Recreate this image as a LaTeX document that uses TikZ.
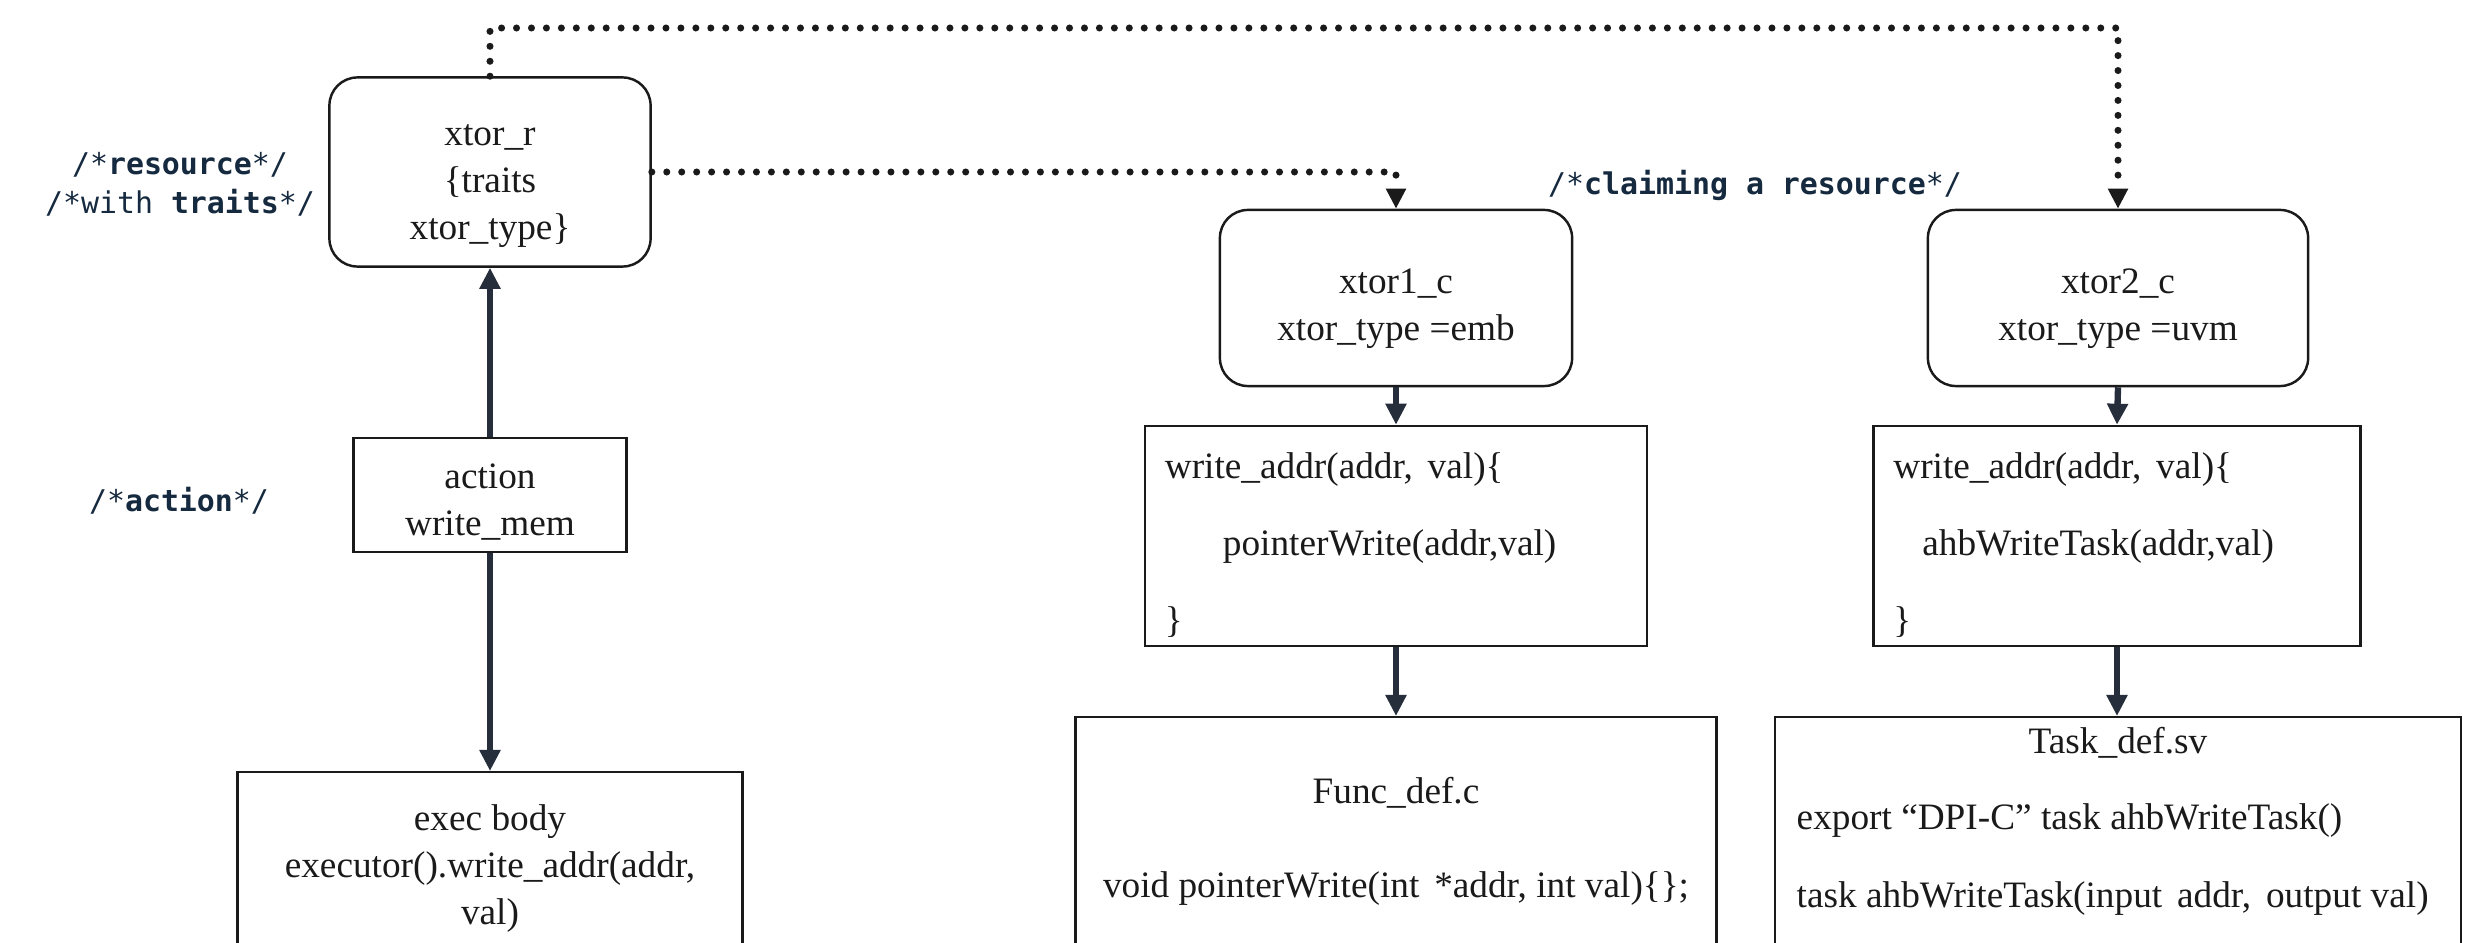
\documentclass[tikz,border=0pt]{standalone}
\usepackage{fontspec}
\setmainfont{Liberation Serif}
\newfontfamily\codefont{DejaVu Sans Mono}
\usetikzlibrary{arrows.meta}

\definecolor{ink}{HTML}{1A1A1A}
\definecolor{flow}{HTML}{262D3B}
\definecolor{note}{HTML}{15293F}

\newcommand{\gap}{\hspace{0.4em}}

\tikzset{
  box/.style={draw=ink, line width=0.7pt, inner sep=0pt},
  rbox/.style={box, rounded corners=0.28cm},
  txt/.style={inner sep=0pt, text=ink, align=center,
    font=\fontsize{10.6}{13.3}\selectfont},
  codetxt/.style={txt, align=left},
  flowarrow/.style={draw=flow, line width=1.8pt, -{Triangle[length=0.21cm,width=0.2cm]}},
  claim/.style={draw=ink, line width=2pt, line cap=round, dash pattern=on 0pt off 4.25pt,
    -{Triangle[length=0.2cm,width=0.19cm]}},
  comment/.style={inner sep=0pt, text=note, align=center,
    font=\codefont\fontsize{8.5}{11}\selectfont},
}

\begin{document}
\begin{tikzpicture}[x=0.01cm,y=-0.01cm]
\useasboundingbox (0,0) rectangle (2472,943);
\clip (0,0) rectangle (2472,943);

% resource, action and executor body
\node[rbox, minimum width=3.21cm, minimum height=1.89cm] (xr) at (490,172) {};
\node[txt] (xrtxt) at ([yshift=-0.14cm]xr.center) {xtor\_r\\\{traits\\xtor\_type\}};
\node[box, minimum width=2.73cm, minimum height=1.14cm] (act) at (490,495) {};
\node[txt] (acttxt) at ([yshift=-0.07cm]act.center) {action\\write\_mem};
\node[box, minimum width=5.05cm, minimum height=1.86cm, anchor=north] (exec) at (490,771) {};
\node[txt] (exectxt) at ([yshift=-0.03cm]exec.center)
  {exec body\\executor().write\_addr(addr,\\val)};

% claimed transactors
\node[rbox, minimum width=3.52cm, minimum height=1.76cm] (x1) at (1396,298) {};
\node[txt] (x1txt) at ([yshift=-0.11cm]x1.center) {xtor1\_c\\xtor\_type =emb};
\node[rbox, minimum width=3.80cm, minimum height=1.76cm] (x2) at (2118,298) {};
\node[txt] (x2txt) at ([yshift=-0.11cm]x2.center) {xtor2\_c\\xtor\_type =uvm};

% write_addr implementations
\node[box, minimum width=5.02cm, minimum height=2.2cm] (w1) at (1396,536) {};
\node[codetxt, text width=4.62cm] (w1txt) at ([yshift=-0.09cm]w1.center)
  {write\_addr(addr,\gap val)\{\\[8.6pt]\hspace*{0.58cm}pointerWrite(addr,val)\\[8.6pt]\}};
\node[box, minimum width=4.87cm, minimum height=2.2cm] (w2) at (2117,536) {};
\node[codetxt, text width=4.47cm] (w2txt) at ([yshift=-0.09cm]w2.center)
  {write\_addr(addr,\gap val)\{\\[8.6pt]\hspace*{0.29cm}ahbWriteTask(addr,val)\\[8.6pt]\}};

% definition files
\node[box, minimum width=6.41cm, minimum height=2.4cm, anchor=north] (fdef) at (1396,716) {};
\node[txt] (fdeftxt) at ([yshift=-0.04cm]fdef.center)
  {Func\_def.c\\[13.3pt]void pointerWrite(int\gap *addr, int val)\{\};};
\node[box, minimum width=6.86cm, minimum height=2.6cm, anchor=north] (tdef) at (2118,716) {};
\node[txt] (ttitle) at (2118,743) {Task\_def.sv};
\node[txt, anchor=west] (texport) at (1796,821) {export “DPI-C” task ahbWriteTask()};
\node[txt, anchor=west] (ttask) at (1796,899)
  {task ahbWriteTask(input\gap addr,\gap output val)};

% comments
\node[comment] (cres) at (180,184) {/*\textbf{resource}*/\\/*with \textbf{traits}*/};
\node[comment] (cact) at (179,501) {/*\textbf{action}*/};
\node[comment] (cclaim) at (1755,185) {/*\textbf{claiming a resource}*/};

% flow arrows
\draw[flowarrow] (act.north) -- (xr.south);
\draw[flowarrow] (act.south) -- (exec.north);
\draw[flowarrow] (x1.south) -- (w1.north);
\draw[flowarrow] (x2.south) -- (w2.north);
\draw[flowarrow] (w1.south) -- (w1.south |- fdef.north);
\draw[flowarrow] (w2.south) -- (w2.south |- tdef.north);

% resource claims
\coordinate (topy) at (0,28);
\draw[claim] (xr.east) -| (x1.north);
\draw[claim] (xr.north) -- (xr.north |- topy) -| (x2.north);
\end{tikzpicture}
\end{document}
